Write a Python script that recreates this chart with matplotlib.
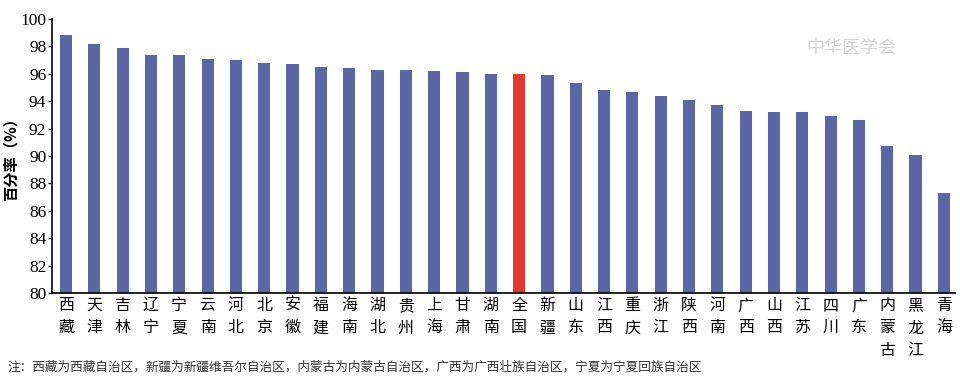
import matplotlib
matplotlib.use("Agg")
import matplotlib.pyplot as plt
import numpy as np

plt.rcParams['font.family'] = ['Noto Sans CJK SC', 'DejaVu Sans']

regions = ["西藏", "天津", "吉林", "辽宁", "宁夏", "云南", "河北", "北京", "安徽", "福建",
           "海南", "湖北", "贵州", "上海", "甘肃", "湖南", "全国", "新疆", "山东", "江西",
           "重庆", "浙江", "陕西", "河南", "广西", "山西", "江苏", "四川", "广东", "内蒙古",
           "黑龙江", "青海"]
rates = [98.8, 98.2, 97.9, 97.4, 97.4, 97.1, 97.0, 96.8, 96.7, 96.5,
         96.4, 96.3, 96.3, 96.2, 96.1, 96.0, 96.0, 95.9, 95.3, 94.8,
         94.7, 94.4, 94.1, 93.7, 93.3, 93.2, 93.2, 92.9, 92.6, 90.7,
         90.1, 87.3]
highlight = "全国"
yticks = list(range(80, 101, 2))

blue = "#5a66a5"
red = "#e3382b"
colors = [red if r == highlight else blue for r in regions]

fig = plt.figure(figsize=(9.6, 3.8), dpi=100)
ax = fig.add_axes([0.054, 0.229, 0.941, 0.721])

x = np.arange(len(regions))
ax.bar(x, rates, width=0.43, color=colors, bottom=0)
ax.set_ylim(80, 100)
ax.set_xlim(-0.5, len(regions) - 0.6)
ax.set_yticks(yticks)
ax.set_yticklabels([str(t) for t in yticks], family=["Liberation Serif"], fontsize=12.5)
ax.set_xticks(x)
ax.set_xticklabels(["\n".join(r) for r in regions], fontsize=11.5, linespacing=1.4,
                   va="top")
ax.tick_params(axis="x", length=0, pad=3)
ax.tick_params(axis="y", length=3, width=1, pad=1)
for s in ["top", "right"]:
    ax.spines[s].set_visible(False)
for s in ["left", "bottom"]:
    ax.spines[s].set_linewidth(1.2)
ax.set_ylabel("百分率（%）", fontsize=11, fontweight="bold", labelpad=1)

# watermark
fig.text(0.84, 0.875, "中华医学会", fontsize=13, color="#d4d4d4", style="italic",
         ha="left", va="center")

fig.text(0.008, 0.035, "注：西藏为西藏自治区，新疆为新疆维吾尔自治区，内蒙古为内蒙古自治区，广西为广西壮族自治区，宁夏为宁夏回族自治区",
         fontsize=9.1, color="#333333", ha="left", va="center")

fig.savefig("out.png", dpi=100)
